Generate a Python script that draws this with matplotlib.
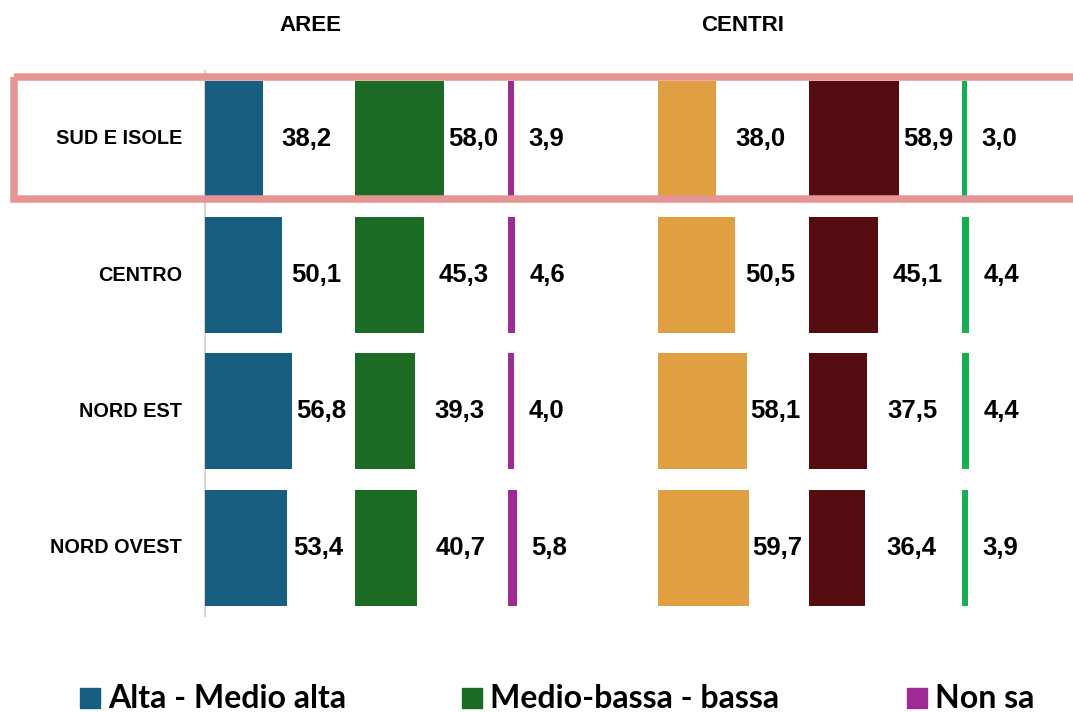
import matplotlib.pyplot as plt
from matplotlib.patches import Rectangle

# dati
zone = ["SUD E ISOLE", "CENTRO", "NORD EST", "NORD OVEST"]
aree_alta = [38.2, 50.1, 56.8, 53.4]
aree_bassa = [58.0, 45.3, 39.3, 40.7]
aree_ns = [3.9, 4.6, 4.0, 5.8]
centri_alta = [38.0, 50.5, 58.1, 59.7]
centri_bassa = [58.9, 45.1, 37.5, 36.4]
centri_ns = [3.0, 4.4, 4.4, 3.9]
legenda = ["Alta - Medio alta", "Medio-bassa - bassa", "Non sa"]

serie = [aree_alta, aree_bassa, aree_ns, centri_alta, centri_bassa, centri_ns]
colori = ["#175e80", "#1b6b24", "#a02a94", "#e09f40", "#540c10", "#12b050"]
basi = [134, 232, 332, 430, 529, 629]   # inizio di ogni colonna

PX = 1.53        # pixel per unità
RIGA = 136.3     # pixel per riga
Y0 = 138.7       # centro della prima riga

fig = plt.figure(figsize=(10.73, 7.12), dpi=100)
ax = fig.add_axes([0, 0, 1, 1])
ax.set_xlim(0, 1073 / PX)
ax.set_ylim((712 - Y0) / RIGA, -Y0 / RIGA)
ax.axis("off")

righe = range(len(zone))
for j, (vals, col, base) in enumerate(zip(serie, colori, basi)):
    ax.barh(righe, vals, left=base, height=0.85, color=col, zorder=2)
    for i, v in zip(righe, vals):
        if j in (2, 5):
            xt = base + v + 21
        else:
            xt = (base + v + basi[j + 1]) / 2 - 1.5
        ax.text(xt, i, f"{v:.1f}".replace(".", ","), ha="center", va="center",
                fontsize=18.5, fontweight="bold", family="Liberation Sans", zorder=4)

# asse delle categorie
ax.plot([basi[0], basi[0]], [-0.5, 3.5], color="#d4d4d4", lw=1.5, zorder=1)
for i, z in zip(righe, zone):
    ax.text(119, i, z, ha="right", va="center", fontsize=14.3, fontweight="bold",
            family="Liberation Sans")

# titoli dei due gruppi
ax.text(202.6, -0.834, "AREE", ha="center", va="center", fontsize=16,
        fontweight="bold", family="Liberation Sans")
ax.text(485.6, -0.834, "CENTRI", ha="center", va="center", fontsize=16,
        fontweight="bold", family="Liberation Sans")

# riquadro evidenziato
ax.add_patch(Rectangle((9.2, -0.456), 800, 0.898, fill=False, ec="#e69595",
                       lw=5.4, zorder=3, clip_on=True))

# legenda
yl = (698 - Y0) / RIGA
for x_px, lab, col in zip([80, 462, 907], legenda, colori[:3]):
    ax.add_patch(Rectangle((x_px / PX, yl - 10 / RIGA), 20 / PX, 20 / RIGA,
                           color=col, clip_on=False))
    ax.text((x_px + 28) / PX, yl, lab, ha="left", va="center", fontsize=23,
            fontweight="bold", family=["Lato", "DejaVu Sans"])

fig.savefig("out.png", dpi=100)
